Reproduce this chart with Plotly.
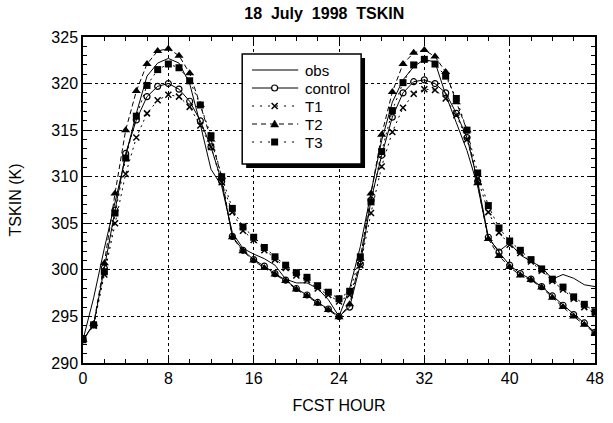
import plotly.graph_objects as go

hours = list(range(0, 49))

obs = [292.5, 297.0, 302.3, 307.3, 312.2, 316.8, 320.8, 322.2, 322.7, 322.2, 320.0, 315.6, 310.8,
       309.0, 304.0, 302.3, 301.7, 301.2, 300.5, 299.0, 298.6, 298.6, 298.0, 296.8, 295.0,
       298.0, 302.5, 308.3, 313.9, 318.0, 320.4, 321.8, 322.6, 322.3, 318.8, 315.8, 312.8,
       309.0, 303.4, 302.0, 302.9, 301.6, 300.9, 300.3, 299.0, 299.5, 299.1, 298.4, 298.2]

control = [292.5, 294.1, 300.2, 306.4, 312.5, 316.1, 318.6, 319.7, 320.0, 319.4, 318.1, 316.0, 313.2,
           309.5, 303.6, 302.1, 301.1, 300.4, 299.6, 298.9, 298.0, 297.3, 296.5, 295.8, 295.0,
           296.0, 300.6, 307.5, 312.3, 316.4, 319.0, 320.2, 320.4, 320.0, 319.0, 316.8, 314.2,
           309.5, 303.5, 301.9, 300.5, 299.6, 299.0, 298.2, 297.2, 296.2, 295.2, 294.3, 293.3]

t1 = [292.5, 294.0, 299.5, 305.0, 310.3, 314.2, 316.8, 318.2, 318.8, 318.6, 317.5, 315.5, 313.2,
      309.4, 306.2, 304.2, 303.2, 302.1, 301.1, 300.2, 299.4, 298.9, 298.0, 297.3, 296.6,
      297.3, 300.5, 306.1, 311.1, 314.8, 317.4, 318.9, 319.4, 319.3, 318.4, 316.6, 314.0,
      309.8, 306.2, 304.0, 302.7, 301.8, 300.9, 299.9, 298.8, 297.9, 296.9, 296.0, 295.3]

t2 = [292.5, 294.2, 300.7, 308.2, 315.0, 319.2, 322.1, 323.5, 323.75, 323.0, 321.1, 317.7, 314.0,
      310.0, 303.5, 302.0, 301.0, 300.2, 299.5, 298.8, 297.9, 297.2, 296.4, 295.7, 294.9,
      296.3, 301.2, 308.2, 314.5, 319.1, 322.1, 323.3, 323.6, 322.9, 321.25, 318.0, 315.0,
      309.3, 303.3, 301.5, 300.3, 299.4, 298.9, 298.1, 297.0, 296.0, 295.0, 294.1, 293.2]

t3 = [292.5, 294.1, 299.8, 306.1, 312.0, 316.5, 319.8, 321.5, 322.1, 321.7, 320.3, 317.7, 314.4,
      310.0, 306.6, 304.6, 303.5, 302.4, 301.4, 300.5, 299.7, 299.2, 298.3, 297.6, 296.9,
      297.7, 301.4, 307.3, 312.7, 317.1, 320.1, 322.0, 322.6, 322.1, 320.8, 318.4, 315.0,
      310.4, 306.9, 304.5, 303.1, 302.1, 301.1, 300.1, 299.0, 298.15, 297.1, 296.3, 295.5]

series_names = ["obs", "control", "T1", "T2", "T3"]

x_ticks = [0, 8, 16, 24, 32, 40, 48]
y_ticks = [290, 295, 300, 305, 310, 315, 320, 325]

FONT = "Liberation Sans, Arial, Helvetica, sans-serif"

# plot-area geometry (pixels) used to place the hand-made legend box
L, R, T, B = 83, 604, 37, 363


def px_x(px):
    return (px - L) / (R - L)


def px_y(py):
    return (B - py) / (B - T)


styles = {
    "obs": dict(line=dict(color="black", width=1), mode="lines", marker=None),
    "control": dict(line=dict(color="black", width=1), mode="lines+markers",
                    marker=dict(symbol="circle-open", size=6, color="black",
                                line=dict(width=1.2, color="black"))),
    "T1": dict(line=dict(color="black", width=1, dash="2px,4px"), mode="lines+markers",
               marker=dict(symbol="x-thin-open", size=6, color="black",
                           line=dict(width=1.5, color="black"))),
    "T2": dict(line=dict(color="black", width=1, dash="5px,3px"), mode="lines+markers",
               marker=dict(symbol="triangle-up", size=8, color="black")),
    "T3": dict(line=dict(color="black", width=1, dash="2px,4px"), mode="lines+markers",
               marker=dict(symbol="square", size=7, color="black")),
}
legend_dash = {"obs": "solid", "control": "solid", "T1": "2px,6px",
               "T2": "5px,4px", "T3": "2px,6px"}
data = {"obs": obs, "control": control, "T1": t1, "T2": t2, "T3": t3}

fig = go.Figure()
for name in series_names:
    st = styles[name]
    kw = dict(x=hours, y=data[name], name=name, mode=st["mode"], line=st["line"],
              showlegend=False)
    if st["marker"] is not None:
        kw["marker"] = st["marker"]
    fig.add_trace(go.Scatter(**kw))

# ---- legend box (drawn with shapes + annotations) ----
box_l, box_r, box_t, box_b = 245, 366, 54, 164
shadow = 4
row_y = [70, 88, 106, 124, 142]
line_x0, line_x1, mark_x, text_x = 255, 302, 278, 307

fig.add_shape(type="rect", xref="paper", yref="paper",
              x0=px_x(box_l + shadow), x1=px_x(box_r + shadow),
              y0=px_y(box_b + shadow), y1=px_y(box_t + shadow),
              fillcolor="black", line=dict(width=0), layer="above")
fig.add_shape(type="rect", xref="paper", yref="paper",
              x0=px_x(box_l), x1=px_x(box_r), y0=px_y(box_b), y1=px_y(box_t),
              fillcolor="white", line=dict(color="black", width=1.5), layer="above")

for name, ry in zip(series_names, row_y):
    fig.add_shape(type="line", xref="paper", yref="paper",
                  x0=px_x(line_x0), x1=px_x(line_x1), y0=px_y(ry), y1=px_y(ry),
                  line=dict(color="black", width=1, dash=legend_dash[name]),
                  layer="above")
    xa, ya = px_x(mark_x), px_y(ry)
    common = dict(xref="paper", yref="paper", xsizemode="pixel", ysizemode="pixel",
                  xanchor=xa, yanchor=ya, layer="above")
    if name == "control":
        fig.add_shape(type="circle", x0=-3, x1=3, y0=-3, y1=3,
                      fillcolor="white", line=dict(color="black", width=1.2), **common)
    elif name == "T1":
        fig.add_shape(type="path", path="M-3,-3 L3,3 M-3,3 L3,-3",
                      line=dict(color="black", width=1.5), **common)
    elif name == "T2":
        fig.add_shape(type="path", path="M-4,-3 L4,-3 L0,4 Z",
                      fillcolor="black", line=dict(color="black", width=0.5), **common)
    elif name == "T3":
        fig.add_shape(type="rect", x0=-3.5, x1=3.5, y0=-3.5, y1=3.5,
                      fillcolor="black", line=dict(width=0), **common)
    fig.add_annotation(xref="paper", yref="paper", x=px_x(text_x), y=px_y(ry),
                       xanchor="left", yanchor="middle", text=name, showarrow=False,
                       font=dict(family=FONT, size=15, color="black"))

axis_common = dict(
    showline=True, linecolor="black", linewidth=1.5, mirror="allticks",
    ticks="inside", ticklen=7, tickwidth=1, tickcolor="black",
    showgrid=True, gridcolor="black", gridwidth=0.6, griddash="dot",
    zeroline=False,
    tickfont=dict(family=FONT, size=16, color="black"),
)

fig.update_xaxes(range=[0, 48], tickvals=x_ticks, ticktext=[str(v) for v in x_ticks],
                 minor=dict(dtick=2, tick0=0, ticks="inside", ticklen=4, tickcolor="black",
                            showgrid=False),
                 title=dict(text="FCST HOUR", font=dict(family=FONT, size=16, color="black"),
                            standoff=14),
                 **axis_common)
fig.update_yaxes(range=[290, 325], tickvals=y_ticks, ticktext=[str(v) for v in y_ticks],
                 minor=dict(dtick=1, tick0=290, ticks="inside", ticklen=4, tickcolor="black",
                            showgrid=False),
                 title=dict(text="TSKIN (K)", font=dict(family=FONT, size=16, color="black"),
                            standoff=26),
                 **axis_common)

fig.update_layout(
    width=613, height=423,
    margin=dict(l=L, r=613 - R, t=T, b=423 - B),
    paper_bgcolor="white", plot_bgcolor="white",
    title=dict(text="<b>18&nbsp; July&nbsp; 1998&nbsp; TSKIN</b>", x=0.529, xanchor="center",
               y=0.969, yanchor="middle",
               font=dict(family=FONT, size=16, color="black")),
    showlegend=False,
)

fig.write_html("out.html")
